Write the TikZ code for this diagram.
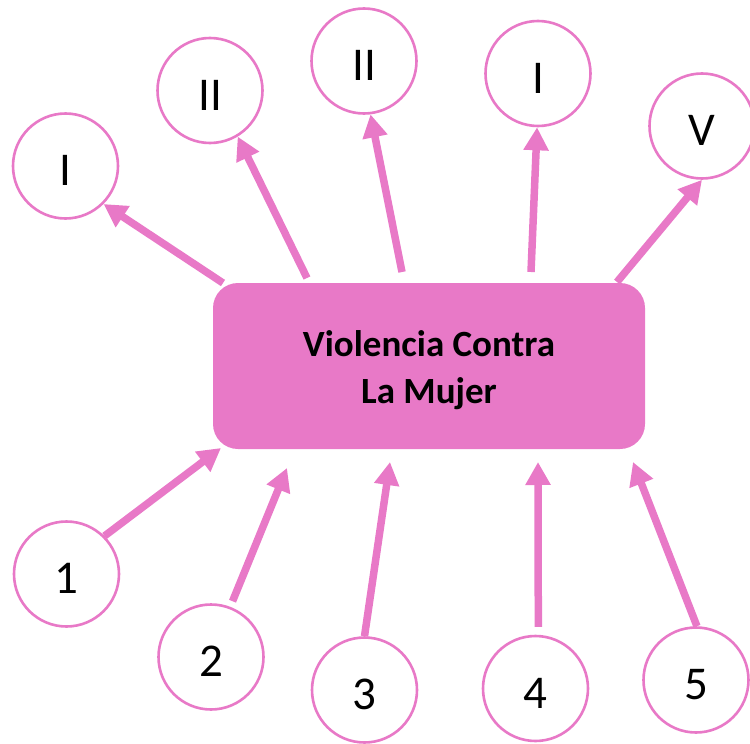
\documentclass[tikz,border=0pt]{standalone}
\usepackage{fontspec}
\setmainfont{Carlito}
\usetikzlibrary{arrows.meta}
\definecolor{pk}{RGB}{232,121,199}
\tikzset{
  circ/.style={circle, draw=pk, line width=2.6pt, fill=white, minimum size=105pt, inner sep=0pt, font=\fontsize{47}{47}\selectfont, text depth=0pt, text height=39pt},
  mainbox/.style={rectangle, rounded corners=25pt, fill=pk, minimum width=432pt, minimum height=166pt, inner sep=0pt},
  boxtext/.style={inner sep=0pt, align=center, font=\bfseries\fontsize{37}{47}\selectfont},
  arr/.style={draw=pk, line width=7.5pt, -{Triangle[length=23pt,width=24pt]}}
}
\begin{document}
\begin{tikzpicture}[x=1pt,y=1pt]
\useasboundingbox (0,0) rectangle (750,-744);
\node[mainbox] (box) at (429,-366) {};
\node[boxtext] (boxlabel) at (429,-370) {Violencia Contra\\La Mujer};
\node[circ] (cA) at (65.5,-166) {I};
\node[circ] (cB) at (210,-90.5) {II};
\node[circ] (cC) at (364,-61) {II};
\node[circ] (cD) at (538,-73.5) {I};
\node[circ] (cE) at (702,-126) {V};
\node[circ] (c1) at (66.5,-574) {1};
\node[circ] (c2) at (211,-657) {2};
\node[circ] (c3) at (364.5,-690) {3};
\node[circ] (c4) at (535.5,-688.5) {4};
\node[circ] (c5) at (696,-680) {5};
\coordinate (a1) at (223,-283);
\coordinate (a2) at (307,-278);
\coordinate (a3) at (402,-272);
\coordinate (a4) at (531,-272);
\coordinate (a5) at (617,-282);
\coordinate (b1) at (221,-448);
\coordinate (b2) at (287,-468);
\coordinate (b3) at (390,-462);
\coordinate (b4) at (538,-462);
\coordinate (b5) at (633,-462);
\draw[arr] (a1) -- (cA.-45);
\draw[arr] (a2) -- (cB.-59.5);
\draw[arr] (a3) -- (cC.-83.5);
\draw[arr] (a4) -- (cD.-91);
\draw[arr] (a5) -- (cE.-90);
\draw[arr] (c1.45) -- (b1);
\draw[arr, shorten <=6pt] (c2.69) -- (b2);
\draw[arr] (c3.90) -- (b3);
\draw[arr, shorten <=8pt] (c4.87) -- (b4);
\draw[arr] (c5.89) -- (b5);
\end{tikzpicture}
\end{document}
